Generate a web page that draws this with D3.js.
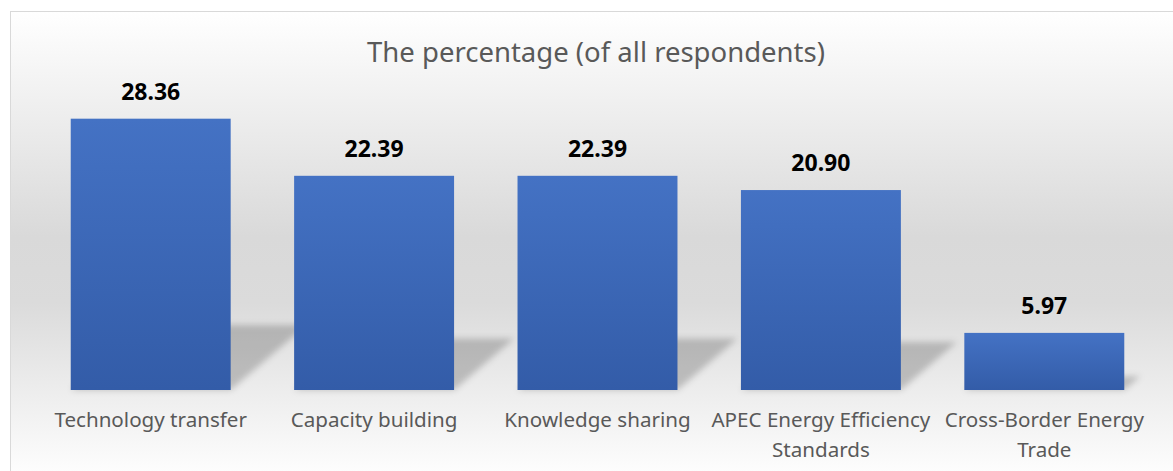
<!DOCTYPE html>
<html>
<head>
<meta charset="utf-8">
<script src="https://cdn.jsdelivr.net/npm/d3@7"></script>
<style>
    body { margin: 0; background: #ffffff; }
    #chart { width: 1173px; height: 471px; }
</style>
</head>
<body>
<div id="chart"></div>
<script>
// Chart data
const categories = ['Technology transfer', 'Capacity building', 'Knowledge sharing',
    'APEC Energy Efficiency Standards', 'Cross-Border Energy Trade'];
const values = [28.36, 22.39, 22.39, 20.90, 5.97];
const valueLabels = ['28.36', '22.39', '22.39', '20.90', '5.97'];
const chartTitle = 'The percentage (of all respondents)';

const totalWidth = 1173;
const totalHeight = 471;

// Plot area
const plot = { left: 39, right: 1156, top: 103, bottom: 390 };

const svg = d3.select('#chart').append('svg')
    .attr('width', totalWidth)
    .attr('height', totalHeight);

const defs = svg.append('defs');

// Chart area background: white -> gray -> white
const bgGrad = defs.append('linearGradient')
    .attr('id', 'bgGrad')
    .attr('x1', 0).attr('y1', 0).attr('x2', 0).attr('y2', 1);
bgGrad.append('stop').attr('offset', '0%').attr('stop-color', '#ffffff');
bgGrad.append('stop').attr('offset', '48%').attr('stop-color', '#d9d9d9');
bgGrad.append('stop').attr('offset', '62%').attr('stop-color', '#dbdbdb');
bgGrad.append('stop').attr('offset', '100%').attr('stop-color', '#ffffff');

// Bar fill
const barGrad = defs.append('linearGradient')
    .attr('id', 'barGrad')
    .attr('x1', 0).attr('y1', 0).attr('x2', 0).attr('y2', 1);
barGrad.append('stop').attr('offset', '0%').attr('stop-color', '#4472c4');
barGrad.append('stop').attr('offset', '100%').attr('stop-color', '#335ca8');

// Blur for the perspective shadows
defs.append('filter')
    .attr('id', 'shadowBlur')
    .attr('x', '-20%').attr('y', '-20%').attr('width', '140%').attr('height', '140%')
    .append('feGaussianBlur')
    .attr('stdDeviation', 3);

svg.append('rect')
    .attr('x', 10.5)
    .attr('y', 11.5)
    .attr('width', 1180)
    .attr('height', 470)
    .attr('fill', 'url(#bgGrad)')
    .attr('stroke', '#d9d9d9')
    .attr('stroke-width', 1);

// Title
svg.append('text')
    .attr('x', 596)
    .attr('y', 62)
    .attr('text-anchor', 'middle')
    .style('font-family', '"Noto Sans", "Open Sans", sans-serif')
    .style('font-size', '27.5px')
    .attr('fill', '#595959')
    .text(chartTitle);

// Scales
const xScale = d3.scaleBand()
    .domain(categories)
    .range([plot.left, plot.right])
    .paddingInner(0.284)
    .paddingOuter(0.142);

const yScale = d3.scaleLinear()
    .domain([0, 30])
    .range([plot.bottom, plot.top]);

// Perspective shadows (skewed copy of each bar, leaning up and right)
const skewX = 0.28;
const squashY = 0.24;
svg.append('g')
    .attr('filter', 'url(#shadowBlur)')
    .selectAll('polygon')
    .data(values)
    .enter().append('polygon')
    .attr('points', (d, i) => {
        const x0 = xScale(categories[i]);
        const x1 = x0 + xScale.bandwidth();
        const h = yScale(0) - yScale(d);
        const base = yScale(0);
        return [
            [x0, base], [x1, base],
            [x1 + skewX * h, base - squashY * h],
            [x0 + skewX * h, base - squashY * h]
        ].map(p => p.join(',')).join(' ');
    })
    .attr('fill', '#000000')
    .attr('fill-opacity', 0.2);

// Bars
svg.append('g')
    .selectAll('rect')
    .data(values)
    .enter().append('rect')
    .attr('x', (d, i) => xScale(categories[i]))
    .attr('y', d => yScale(d))
    .attr('width', xScale.bandwidth())
    .attr('height', d => yScale(0) - yScale(d))
    .attr('fill', 'url(#barGrad)');

// Value labels
svg.append('g')
    .selectAll('text')
    .data(values)
    .enter().append('text')
    .attr('x', (d, i) => xScale(categories[i]) + xScale.bandwidth() / 2)
    .attr('y', d => yScale(d) - 19)
    .attr('text-anchor', 'middle')
    .style('font-family', '"Noto Sans", "Open Sans", sans-serif')
    .style('font-size', '23px')
    .style('font-weight', 'bold')
    .attr('fill', '#000000')
    .text((d, i) => valueLabels[i]);

// Category axis (no line, no ticks), labels wrapped to the band step
const xAxis = svg.append('g')
    .attr('transform', `translate(0,${plot.bottom})`)
    .call(d3.axisBottom(xScale).tickSize(0).tickPadding(0));
xAxis.select('.domain').remove();

const maxLabelWidth = xScale.step() - 2;
xAxis.selectAll('.tick text')
    .style('font-family', '"Noto Sans", "Open Sans", sans-serif')
    .style('font-size', '20.6px')
    .attr('fill', '#595959')
    .attr('dy', null)
    .attr('y', 37)
    .each(function(label) {
        const text = d3.select(this);
        const words = label.split(' ');
        text.text(null);
        let line = [];
        let lineNo = 0;
        let tspan = text.append('tspan').attr('x', 0).attr('y', 37);
        words.forEach(word => {
            line.push(word);
            tspan.text(line.join(' '));
            if (tspan.node().getComputedTextLength() > maxLabelWidth && line.length > 1) {
                line.pop();
                tspan.text(line.join(' '));
                line = [word];
                lineNo++;
                tspan = text.append('tspan')
                    .attr('x', 0)
                    .attr('y', 37 + lineNo * 30)
                    .text(word);
            }
        });
    });
</script>
</body>
</html>
